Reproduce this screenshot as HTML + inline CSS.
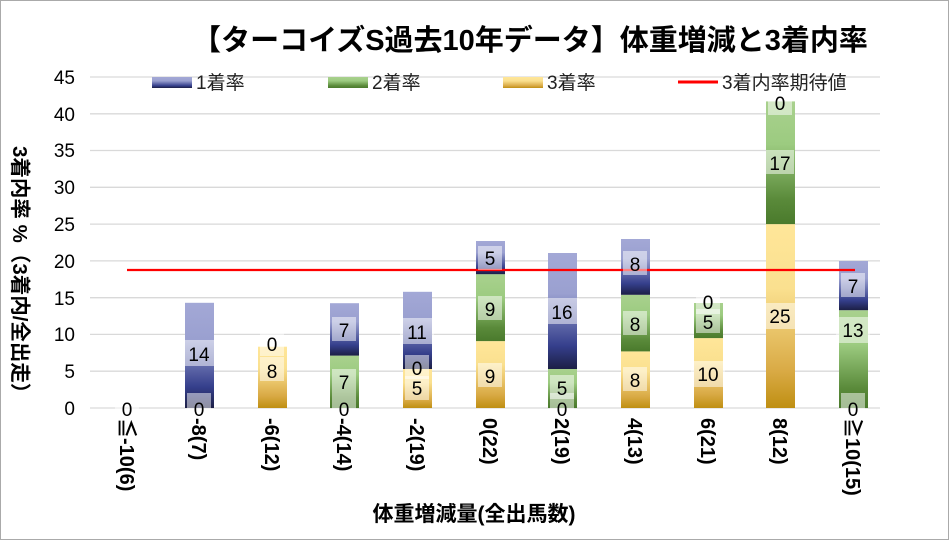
<!DOCTYPE html><html><head><meta charset="utf-8"><style>body{margin:0;background:#fff}svg{display:block;font-family:"Liberation Sans","Noto Sans CJK JP",sans-serif}</style></head><body>
<svg width="949" height="540" viewBox="0 0 949 540">
<defs>
<linearGradient id="gb" x1="0" y1="0" x2="0" y2="1"><stop offset="0" stop-color="#a3a8d6"/><stop offset="0.35" stop-color="#9aa0d0"/><stop offset="0.8" stop-color="#353f8c"/><stop offset="1" stop-color="#1c1f45"/></linearGradient>
<linearGradient id="gg" x1="0" y1="0" x2="0" y2="1"><stop offset="0" stop-color="#a9d18e"/><stop offset="0.35" stop-color="#9ccb80"/><stop offset="0.8" stop-color="#5a8a3a"/><stop offset="1" stop-color="#4a7a2c"/></linearGradient>
<linearGradient id="gy" x1="0" y1="0" x2="0" y2="1"><stop offset="0" stop-color="#ffe699"/><stop offset="0.35" stop-color="#fae08f"/><stop offset="0.8" stop-color="#d9aa45"/><stop offset="1" stop-color="#bf8f12"/></linearGradient>
</defs>
<rect x="0.5" y="0.5" width="948" height="539" fill="#fff" stroke="#aaa"/>
<text x="530" y="50" font-size="29" font-weight="bold" text-anchor="middle" fill="#000">【ターコイズS過去10年データ】体重増減と3着内率</text>
<g stroke="#d9d9d9" stroke-width="1.3">
<line x1="90" x2="880" y1="408" y2="408"/><line x1="90" x2="880" y1="371.2" y2="371.2"/><line x1="90" x2="880" y1="334.4" y2="334.4"/><line x1="90" x2="880" y1="297.7" y2="297.7"/><line x1="90" x2="880" y1="260.9" y2="260.9"/><line x1="90" x2="880" y1="224.1" y2="224.1"/><line x1="90" x2="880" y1="187.3" y2="187.3"/><line x1="90" x2="880" y1="150.5" y2="150.5"/><line x1="90" x2="880" y1="113.8" y2="113.8"/><line x1="90" x2="880" y1="77" y2="77"/>
</g>
<g font-size="19" text-anchor="end" fill="#000">
<text x="75" y="415">0</text><text x="75" y="378">5</text><text x="75" y="341">10</text><text x="75" y="305">15</text><text x="75" y="268">20</text><text x="75" y="231">25</text><text x="75" y="194">30</text><text x="75" y="157">35</text><text x="75" y="121">40</text><text x="75" y="84">45</text>
</g>
<text transform="translate(13,146) rotate(90)" font-size="20.5" font-weight="bold" fill="#000">3着内率 %（3着内/全出走）</text>
<g font-size="19" fill="#222">
<rect x="152" y="77" width="40" height="11" fill="url(#gb)"/><text x="196" y="89">1着率</text>
<rect x="328" y="77" width="40" height="11" fill="url(#gg)"/><text x="372" y="89">2着率</text>
<rect x="503" y="77" width="40" height="11" fill="url(#gy)"/><text x="547" y="89">3着率</text>
<line x1="678" x2="718" y1="82" y2="82" stroke="#f00" stroke-width="3"/><text x="722" y="89">3着内率期待値</text>
</g>
<g>
<rect x="185" y="302.8" width="29" height="105.2" fill="url(#gb)"/>
<rect x="258" y="346.7" width="29" height="61.3" fill="url(#gy)"/>
<rect x="330" y="355.6" width="29" height="52.4" fill="url(#gg)"/>
<rect x="330" y="303.2" width="29" height="52.4" fill="url(#gb)"/>
<rect x="403" y="369" width="29" height="39" fill="url(#gy)"/>
<rect x="403" y="291.8" width="29" height="77.2" fill="url(#gb)"/>
<rect x="476" y="341.1" width="29" height="66.9" fill="url(#gy)"/>
<rect x="476" y="274.2" width="29" height="66.9" fill="url(#gg)"/>
<rect x="476" y="241" width="29" height="33.2" fill="url(#gb)"/>
<rect x="548" y="369" width="29" height="39" fill="url(#gg)"/>
<rect x="548" y="253" width="29" height="116" fill="url(#gb)"/>
<rect x="621" y="351.4" width="29" height="56.6" fill="url(#gy)"/>
<rect x="621" y="294.8" width="29" height="56.6" fill="url(#gg)"/>
<rect x="621" y="239" width="29" height="55.8" fill="url(#gb)"/>
<rect x="694" y="338.1" width="29" height="69.9" fill="url(#gy)"/>
<rect x="694" y="303" width="29" height="35.1" fill="url(#gg)"/>
<rect x="766" y="224.1" width="29" height="183.9" fill="url(#gy)"/>
<rect x="766" y="101.4" width="29" height="122.7" fill="url(#gg)"/>
<rect x="839" y="310.2" width="29" height="97.8" fill="url(#gg)"/>
<rect x="839" y="261" width="29" height="49.2" fill="url(#gb)"/>
</g>
<line x1="127" x2="855" y1="270" y2="270" stroke="#f00" stroke-width="2.2"/>
<g font-size="19" text-anchor="middle" fill="#000">
<g fill="#fff" fill-opacity="0.5">
<rect x="115" y="393" width="24" height="24"/><rect x="187" y="393" width="24" height="24"/><rect x="183" y="340" width="34" height="26"/>
<rect x="260" y="332" width="24" height="24"/><rect x="260" y="357" width="24" height="24"/>
<rect x="332" y="393" width="24" height="24"/><rect x="332" y="369" width="24" height="24"/><rect x="332" y="317" width="24" height="24"/>
<rect x="405" y="355" width="24" height="24"/><rect x="405" y="376" width="24" height="24"/><rect x="400" y="318" width="34" height="26"/>
<rect x="478" y="363" width="24" height="24"/><rect x="478" y="296" width="24" height="24"/><rect x="478" y="246" width="24" height="24"/>
<rect x="550" y="393" width="24" height="24"/><rect x="550" y="375" width="24" height="24"/><rect x="545" y="298" width="34" height="26"/>
<rect x="623" y="367" width="24" height="24"/><rect x="623" y="311" width="24" height="24"/><rect x="623" y="251" width="24" height="24"/>
<rect x="691" y="361" width="34" height="26"/><rect x="696" y="309" width="24" height="24"/><rect x="696" y="290" width="24" height="24"/>
<rect x="763" y="303" width="34" height="26"/><rect x="766" y="150" width="28" height="24"/><rect x="768" y="91" width="24" height="24"/>
<rect x="841" y="393" width="24" height="24"/><rect x="836" y="317" width="34" height="26"/><rect x="841" y="273" width="24" height="24"/>
</g>
<text x="127" y="416">0</text>
<text x="199" y="416">0</text><text x="199" y="361">14</text>
<text x="272" y="351">0</text><text x="272" y="378">8</text>
<text x="344" y="416">0</text><text x="344" y="389">7</text><text x="344" y="337">7</text>
<text x="417" y="375">0</text><text x="417" y="395">5</text><text x="417" y="339">11</text>
<text x="490" y="383">9</text><text x="490" y="316">9</text><text x="490" y="265">5</text>
<text x="562" y="416">0</text><text x="562" y="395">5</text><text x="562" y="319">16</text>
<text x="635" y="387">8</text><text x="635" y="331">8</text><text x="635" y="271">8</text>
<text x="708" y="381">10</text><text x="708" y="329">5</text><text x="708" y="309">0</text>
<text x="780" y="323">25</text><text x="780" y="170">17</text><text x="780" y="110">0</text>
<text x="853" y="416">0</text><text x="853" y="337">13</text><text x="853" y="293">7</text>
</g>
<g font-size="20" font-weight="bold" fill="#000">
<text transform="translate(120,418) rotate(90)">≦-10(6)</text>
<text transform="translate(192,418) rotate(90)">-8(7)</text>
<text transform="translate(265,418) rotate(90)">-6(12)</text>
<text transform="translate(337,418) rotate(90)">-4(14)</text>
<text transform="translate(410,418) rotate(90)">-2(19)</text>
<text transform="translate(483,418) rotate(90)">0(22)</text>
<text transform="translate(555,418) rotate(90)">2(19)</text>
<text transform="translate(628,418) rotate(90)">4(13)</text>
<text transform="translate(701,418) rotate(90)">6(21)</text>
<text transform="translate(773,418) rotate(90)">8(12)</text>
<text transform="translate(846,418) rotate(90)">≧10(15)</text>
</g>
<text x="474" y="521" font-size="21" font-weight="bold" text-anchor="middle" fill="#000">体重増減量(全出馬数)</text>
</svg>
</body></html>
